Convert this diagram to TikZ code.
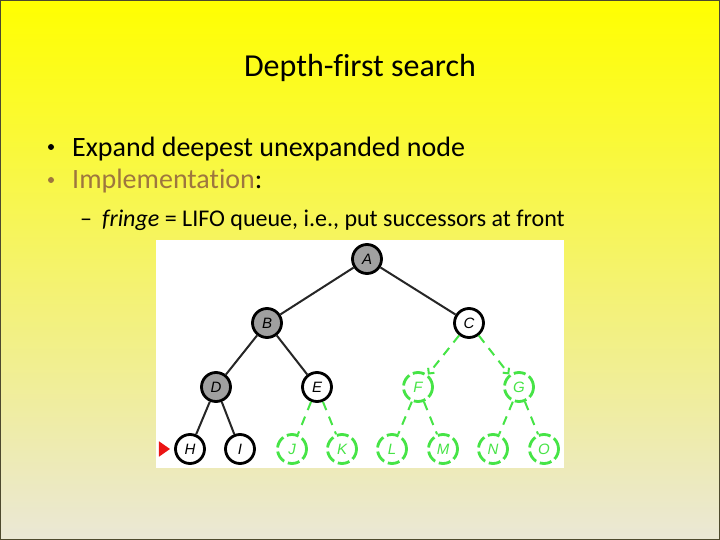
\documentclass[tikz,border=0pt]{standalone}
\usepackage{fontspec}
\setmainfont{Carlito}[Ligatures={NoCommon}]
\newfontfamily\treefont{Liberation Sans}
\definecolor{slidetop}{RGB}{255,255,0}
\definecolor{slidemid}{RGB}{245,241,150}
\definecolor{slidebot}{RGB}{234,231,214}
\definecolor{implbrown}{RGB}{158,118,62}
\definecolor{fringegreen}{RGB}{70,228,70}
\definecolor{visitgray}{RGB}{160,160,160}
\definecolor{markred}{RGB}{235,20,20}
\usetikzlibrary{arrows.meta,positioning,shapes.geometric}

\begin{document}
\begin{tikzpicture}[x=1pt,y=-1pt,
      tnode/.style={circle, draw=black, line width=2.8pt, fill=white,
                    minimum size=29pt, inner sep=0pt,
                    font=\treefont\itshape\fontsize{15}{15}\selectfont},
      gnode/.style={tnode, fill=visitgray},
      fnode/.style={tnode, draw=fringegreen, dash pattern=on 12pt off 4pt,
                    text=fringegreen},
      edge/.style={line width=2pt, black!85},
      fedge/.style={line width=2pt, fringegreen, dash pattern=on 9pt off 7pt},
      farr/.style={fedge, -{Straight Barb[length=4pt,width=8pt]}},
      txt/.style={anchor=base west, inner sep=0pt},
      dot/.style={circle, fill, inner sep=0pt, minimum size=6pt}
    ]
    \useasboundingbox (0,0) rectangle (720,540);
    \shade[top color=slidetop, middle color=slidemid, bottom color=slidebot]
      (0,0) rectangle (720,540);
    \draw[black!60!olive, line width=0.8pt] (0.4,0.4) rectangle (719.6,539.6);

    \node[anchor=base, inner sep=0pt, font=\fontsize{32}{32}\selectfont]
      (title) at (360,77) {Depth-first search};

    \node[dot, black] (b1) at (51,147) {};
    \node[txt, font=\fontsize{28}{28}\selectfont] (t1) at (72,157)
      {Expand deepest unexpanded node};
    \node[dot, implbrown] (b2) at (51,180) {};
    \node[txt, font=\fontsize{28}{28}\selectfont] (t2) at (72,189)
      {\textcolor{implbrown}{Implementation}:};
    \node[txt, font=\fontsize{24}{24}\selectfont] (d3) at (80,226) {\textendash};
    \node[txt, font=\fontsize{24}{24}\selectfont] (t3) at (102,226)
      {\textit{fringe} = LIFO queue, i.e., put successors at front};

    \fill[white] (156,240) rectangle (564,468);

    \node[gnode] (A) at (367,259) {A};
    \node[gnode] (B) at (267,323) {B};
    \node[tnode] (C) at (469,323) {C};
    \node[gnode] (D) at (216,387) {D};
    \node[tnode] (E) at (317,387) {E};
    \node[fnode] (F) at (418,387) {F};
    \node[fnode] (G) at (519,387) {G};
    \node[tnode] (H) at (190,449) {H};
    \node[tnode] (I) at (240,449) {I};
    \node[fnode] (J) at (292,449) {J};
    \node[fnode] (K) at (342,449) {K};
    \node[fnode] (L) at (392,449) {L};
    \node[fnode] (M) at (443,449) {M};
    \node[fnode] (N) at (493,449) {N};
    \node[fnode] (O) at (544,449) {O};

    \node[isosceles triangle, fill=markred, inner sep=0pt,
          minimum height=11pt, minimum width=13pt, isosceles triangle apex angle=70]
      (ptr) at (163,449) {};

    \draw[edge] (A)--(B);
    \draw[edge] (A)--(C);
    \draw[edge] (B)--(D);
    \draw[edge] (B)--(E);
    \draw[edge] (D)--(H);
    \draw[edge] (D)--(I);
    \draw[farr] (C)--(F);
    \draw[farr] (C)--(G);
    \draw[fedge] (E)--(J);
    \draw[fedge] (E)--(K);
    \draw[fedge] (F)--(L);
    \draw[fedge] (F)--(M);
    \draw[fedge] (G)--(N);
    \draw[fedge] (G)--(O);
  \end{tikzpicture}
\end{document}
